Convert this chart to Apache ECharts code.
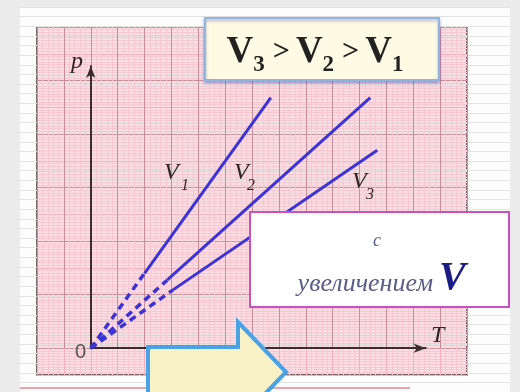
<!DOCTYPE html>
<html>
<head>
<meta charset="utf-8">
<script src="https://cdn.jsdelivr.net/npm/echarts@6/dist/echarts.min.js"></script>
<style>
html, body { margin: 0; padding: 0; background: #fff; }
#chart { width: 520px; height: 392px; }
</style>
</head>
<body>
<div id="chart"></div>
<script>
// isochores p(T): origin -> start of solid part -> end
var v1T = [0, 1.0, 3.35];
var v1P = [0, 1.40, 4.68];
var v2T = [0, 1.42, 5.20];
var v2P = [0, 1.27, 4.68];
var v3T = [0, 1.53, 5.33];
var v3P = [0, 1.09, 3.70];
var lineNames = ['V1', 'V2', 'V3'];

var serif = '"Liberation Serif", "DejaVu Serif", serif';
var lineColor = '#3b33d6';

function seg(t, p, a, b) {
    return [[t[a], p[a]], [t[b], p[b]]];
}

// each isochore: dashed near zero, solid after
function makeSeries(name, t, p) {
    return [{
        name: name + ' dash',
        type: 'line',
        xAxisIndex: 1,
        yAxisIndex: 1,
        data: seg(t, p, 0, 1),
        symbol: 'none',
        silent: true,
        lineStyle: { color: lineColor, width: 3.5, type: [7, 5] },
        z: 5
    }, {
        name: name,
        type: 'line',
        xAxisIndex: 1,
        yAxisIndex: 1,
        data: seg(t, p, 1, 2),
        symbol: 'none',
        silent: true,
        lineStyle: { color: lineColor, width: 3 },
        z: 5
    }];
}

var series = [].concat(
    makeSeries(lineNames[0], v1T, v1P),
    makeSeries(lineNames[1], v2T, v2P),
    makeSeries(lineNames[2], v3T, v3P)
);

var hidden = { show: false };

var chart = echarts.init(document.getElementById('chart'));
var option = {
    animation: false,
    backgroundColor: '#ebebeb',
    grid: [
        // striped page behind the paper
        { left: 20, top: 7, right: 10, bottom: 0, show: true, backgroundColor: '#fdfdfd', borderWidth: 0 },
        // pink graph paper, fine lines
        { left: 37, top: 27, width: 430, height: 348, show: true, backgroundColor: '#fcdee4', borderColor: '#4a3638', borderWidth: 1.5 },
        // darker lines of the paper
        { left: 37, top: 27, width: 430, height: 321.2, show: false },
        // p and T axes
        { left: 90.75, top: 66, width: 335, height: 282.2, show: false }
    ],
    xAxis: [
        { gridIndex: 0, type: 'value', min: 0, max: 1, axisLine: hidden, axisTick: hidden, axisLabel: hidden, splitLine: hidden },
        {
            gridIndex: 1, type: 'value', min: -1, max: 7, interval: 0.5,
            axisLine: hidden, axisTick: hidden, axisLabel: hidden,
            splitLine: { show: true, lineStyle: { color: '#f0b0bd', width: 1 } },
            minorTick: { show: false, splitNumber: 5 },
            minorSplitLine: { show: true, lineStyle: { color: '#f7c8d1', width: 1 } }
        },
        {
            gridIndex: 2, type: 'value', min: -1, max: 7, interval: 0.5,
            axisLine: hidden, axisTick: hidden, axisLabel: hidden,
            splitLine: { show: true, lineStyle: { color: '#c98d98', width: 1 } }
        },
        {
            gridIndex: 3, type: 'value', min: 0, max: 1,
            axisLabel: hidden, axisTick: hidden, splitLine: hidden,
            axisLine: { show: true, symbol: ['none', 'arrow'], symbolSize: [7, 12], lineStyle: { color: '#3a2c2e', width: 2 } }
        }
    ],
    yAxis: [
        {
            gridIndex: 0, type: 'value', min: 0, max: 40, interval: 1,
            axisLine: hidden, axisTick: hidden, axisLabel: hidden,
            splitLine: { show: true, lineStyle: { color: '#e3e3e3', width: 1 } }
        },
        {
            gridIndex: 1, type: 'value', min: -0.5, max: 6, interval: 0.5,
            axisLine: hidden, axisTick: hidden, axisLabel: hidden,
            splitLine: { show: true, lineStyle: { color: '#f0b0bd', width: 1 } },
            minorTick: { show: false, splitNumber: 10 },
            minorSplitLine: { show: true, lineStyle: { color: '#f7c8d1', width: 1 } }
        },
        {
            gridIndex: 2, type: 'value', min: 0, max: 6, interval: 1,
            axisLine: hidden, axisTick: hidden, axisLabel: hidden,
            splitLine: { show: true, lineStyle: { color: '#c98d98', width: 1 } }
        },
        {
            gridIndex: 3, type: 'value', min: 0, max: 1,
            axisLabel: hidden, axisTick: hidden, splitLine: hidden,
            axisLine: { show: true, symbol: ['none', 'arrow'], symbolSize: [7, 12], lineStyle: { color: '#3a2c2e', width: 2 } }
        }
    ],
    series: series,
    graphic: [
        // reddish rule under the paper
        { type: 'line', shape: { x1: 20, y1: 388, x2: 410, y2: 388 }, style: { stroke: '#e9a4a8', lineWidth: 2 }, z: 1 },

        // axis letters
        { type: 'text', x: 71, y: 50, style: { text: 'p', font: 'italic 24px ' + serif, fill: '#2e2626' }, z: 20 },
        { type: 'text', x: 431, y: 324, style: { text: 'T', font: 'italic 24px ' + serif, fill: '#2e2626' }, z: 20 },
        { type: 'text', x: 75, y: 342, style: { text: '0', font: '20px "Liberation Sans", sans-serif', fill: '#555' }, z: 20 },

        // curve names
        { type: 'text', x: 164, y: 161, style: { text: 'V', font: 'italic 24px ' + serif, fill: '#2e2626' }, z: 20 },
        { type: 'text', x: 181, y: 178, style: { text: '1', font: 'italic 16px ' + serif, fill: '#2e2626' }, z: 20 },
        { type: 'text', x: 234, y: 161, style: { text: 'V', font: 'italic 24px ' + serif, fill: '#2e2626' }, z: 20 },
        { type: 'text', x: 247, y: 178, style: { text: '2', font: 'italic 16px ' + serif, fill: '#2e2626' }, z: 20 },
        { type: 'text', x: 352, y: 170, style: { text: 'V', font: 'italic 24px ' + serif, fill: '#2e2626' }, z: 20 },
        { type: 'text', x: 366, y: 187, style: { text: '3', font: 'italic 16px ' + serif, fill: '#2e2626' }, z: 20 },

        // top box
        {
            type: 'rect', shape: { x: 205, y: 18, width: 234, height: 62 },
            style: { fill: '#fdfbe3', stroke: '#8fb6df', lineWidth: 2, shadowColor: 'rgba(90,70,170,0.45)', shadowBlur: 3, shadowOffsetY: 2 },
            z: 30
        },
        {
            type: 'text', x: 315, y: 52,
            style: {
                text: '{v|V}{s|3}{g|>}{v|V}{s|2}{g|>}{v|V}{s|1}',
                align: 'center', verticalAlign: 'middle',
                rich: {
                    v: { font: 'bold 37px ' + serif, fill: '#222', lineHeight: 40 },
                    s: { font: 'bold 23px ' + serif, fill: '#222', padding: [26, 0, 0, 0], lineHeight: 40 },
                    g: { font: 'bold 30px ' + serif, fill: '#222', padding: [0, 6, 0, 8], lineHeight: 40 }
                }
            },
            z: 31
        },

        // magenta box
        {
            type: 'rect', shape: { x: 250, y: 212, width: 259, height: 95 },
            style: { fill: '#ffffff', stroke: '#c650c4', lineWidth: 2 },
            z: 30
        },
        { type: 'text', x: 377, y: 241, style: { text: 'с', font: 'italic 18px ' + serif, fill: '#5b5b8a', align: 'center', verticalAlign: 'middle' }, z: 31 },
        { type: 'text', x: 433, y: 284, style: { text: 'увеличением', font: 'italic 26px ' + serif, fill: '#5b5b8a', align: 'right', verticalAlign: 'middle' }, z: 31 },
        { type: 'text', x: 439, y: 279, style: { text: 'V', font: 'italic bold 40px ' + serif, fill: '#1c1c86', verticalAlign: 'middle' }, z: 31 },

        // block arrow
        {
            type: 'polygon',
            shape: { points: [[148, 347], [238, 347], [238, 322], [286, 372], [238, 422], [238, 397], [148, 397]] },
            style: { fill: '#f8f1c5', stroke: '#4aa2e6', lineWidth: 4 },
            z: 30
        }
    ]
};
chart.setOption(option);
</script>
</body>
</html>
